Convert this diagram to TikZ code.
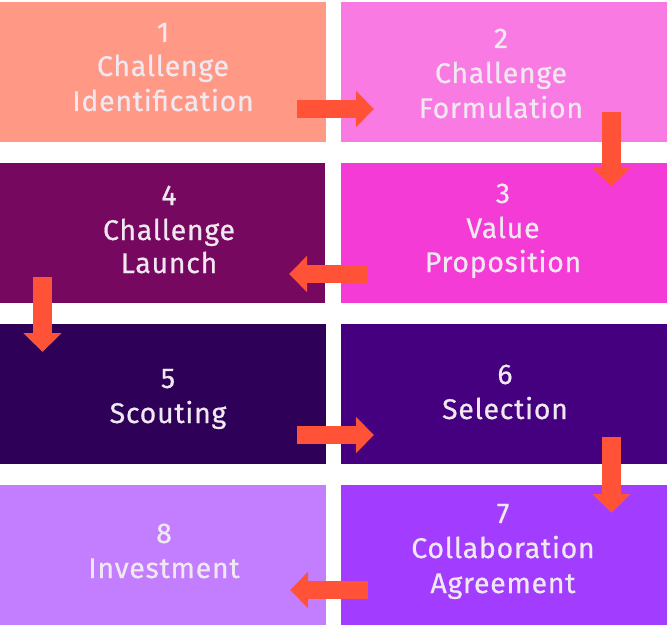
\documentclass[tikz,border=0pt]{standalone}
\usepackage{fontspec}
\setmainfont{Fira Sans}[LetterSpace=2.5,FakeBold=0.6]
\usetikzlibrary{arrows.meta}
\definecolor{cA}{HTML}{FF9985}
\definecolor{cB}{HTML}{F97AE3}
\definecolor{cC}{HTML}{F53BD6}
\definecolor{cD}{HTML}{77085F}
\definecolor{cE}{HTML}{2E0058}
\definecolor{cF}{HTML}{44007F}
\definecolor{cG}{HTML}{A23DFF}
\definecolor{cH}{HTML}{C27EFF}
\definecolor{arr}{HTML}{FF5236}
\definecolor{txt}{HTML}{F0E8F0}
\tikzset{
  box/.style={draw=none, inner sep=0pt, minimum width=326pt, minimum height=140pt, anchor=north west},
  lbl/.style={anchor=base, inner sep=0pt, text=txt, font=\fontsize{28.5}{30}\selectfont},
  harr/.style={draw=arr, line width=18pt, -{Triangle[width=35pt,length=18pt]}, shorten >=0pt},
  varr/.style={draw=arr, line width=19pt, -{Triangle[width=37pt,length=19pt]}},
}
\begin{document}
\begin{tikzpicture}[x=1pt,y=-1pt]
\useasboundingbox (0,0) rectangle (668,628);
% boxes
\node[box, fill=cA] (b1) at (0,2) {};
\node[box, fill=cB] (b2) at (341,2) {};
\node[box, fill=cC] (b3) at (341,163) {};
\node[box, fill=cD, minimum width=325pt] (b4) at (0,163) {};
\node[box, fill=cE] (b5) at (0,324) {};
\node[box, fill=cF] (b6) at (341,324) {};
\node[box, fill=cG] (b7) at (341,485) {};
\node[box, fill=cH] (b8) at (0,485) {};
% labels
\node[lbl] (t1a) at (163,42) {1};
\node[lbl] (t1b) at (163,76) {Challenge};
\node[lbl] (t1c) at (163,111) {Identification};
\node[lbl] (t2a) at (501,48) {2};
\node[lbl] (t2b) at (501,83) {Challenge};
\node[lbl] (t2c) at (501,118) {Formulation};
\node[lbl] (t3a) at (503,203) {3};
\node[lbl] (t3b) at (503,238) {Value};
\node[lbl] (t3c) at (503,272) {Proposition};
\node[lbl] (t4a) at (169,205) {4};
\node[lbl] (t4b) at (169,240) {Challenge};
\node[lbl] (t4c) at (169,273) {Launch};
\node[lbl] (t5a) at (168,388) {5};
\node[lbl] (t5b) at (168,423) {Scouting};
\node[lbl] (t6a) at (505,384) {6};
\node[lbl] (t6b) at (505,419) {Selection};
\node[lbl] (t7a) at (503,523) {7};
\node[lbl] (t7b) at (503,558) {Collaboration};
\node[lbl] (t7c) at (503,593) {Agreement};
\node[lbl] (t8a) at (164,543) {8};
\node[lbl] (t8b) at (164,578) {Investment};
% arrow end points
\coordinate (a12s) at (297,109);
\coordinate (a12e) at (374,109);
\coordinate (a23s) at (611.5,112);
\coordinate (a23e) at (611.5,187);
\coordinate (a34s) at (367,274);
\coordinate (a34e) at (289,274);
\coordinate (a45s) at (42.5,277);
\coordinate (a45e) at (42.5,352);
\coordinate (a56s) at (297,435);
\coordinate (a56e) at (374,435);
\coordinate (a67s) at (611.5,437);
\coordinate (a67e) at (611.5,513);
\coordinate (a78s) at (368,590);
\coordinate (a78e) at (290,590);
\draw[harr] (a12s) -- (a12e);
\draw[varr] (a23s) -- (a23e);
\draw[harr] (a34s) -- (a34e);
\draw[varr] (a45s) -- (a45e);
\draw[harr] (a56s) -- (a56e);
\draw[varr] (a67s) -- (a67e);
\draw[harr] (a78s) -- (a78e);
\end{tikzpicture}
\end{document}
